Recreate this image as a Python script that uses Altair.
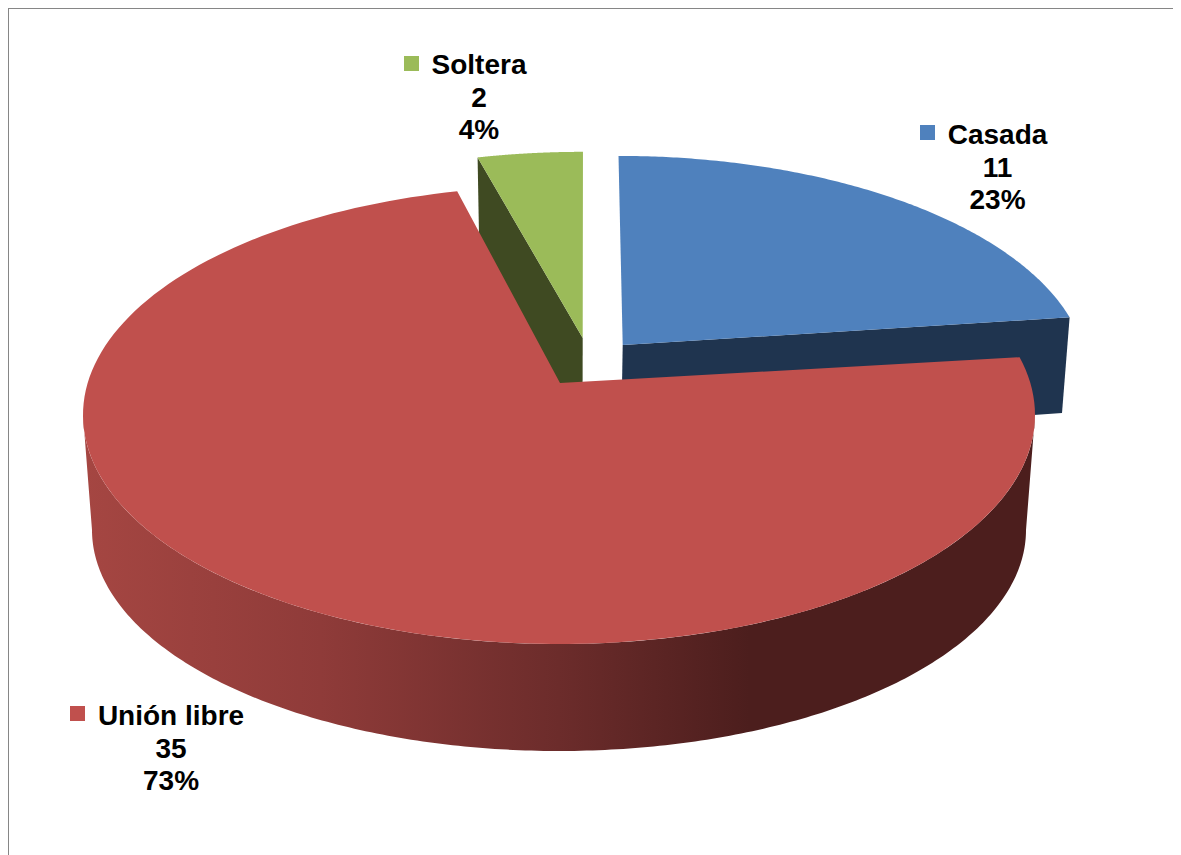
import altair as alt
import numpy as np

# ---- chart values ----
categories = ["Casada", "Unión libre", "Soltera"]
values = [11, 35, 2]
top_colors = ["#4F81BD", "#C0504D", "#9BBB59"]
wall_colors = ["#1F344F", None, "#3F4A22"]

# ---- layout (page pixels minus the 8px margin) ----
M = 8
W, H = 1165, 847
CX, CY, RA, RB = 559 - M, 415 - M, 476, 229       # top ellipse
LX, LY, LA, LB = 559 - M, 530 - M, 467, 221       # bottom ellipse
AX, AY = 560 - M, 383 - M                         # perspective centre of the pie
K = (CY - AY) / RB

total = sum(values)
fracs = [v / total for v in values]
starts = np.cumsum([0] + fracs[:-1]) * 360
ends = np.cumsum(fracs) * 360


def rim(theta_deg):
    t = np.radians(theta_deg)
    u, v = np.sin(t), np.cos(t)
    d = 1 + K * v
    return CX + RA * u * np.sqrt(1 - K**2) / d, CY - RB * (v + K) / d


def poly(xs, ys):
    pts = [[float(x), float(y)] for x, y in zip(xs, ys)]
    pts.append(pts[0])
    return {"type": "Feature", "properties": {},
            "geometry": {"type": "Polygon", "coordinates": [pts]}}


def sector(i, apex, sx=1.0, sy=1.0, shear=0.0, rot=0.0):
    th = np.linspace(starts[i] + rot, ends[i] + rot, 160)
    x, y = rim(th)
    dx, dy = x - AX, y - AY
    return np.r_[apex[0], apex[0] + sx * dx + shear * dy], np.r_[apex[1], apex[1] + sy * dy]


def shape(feature, fill):
    return alt.Chart(alt.Data(values=[feature])).mark_geoshape(
        fill=fill, stroke=None, strokeWidth=0
    ).project(type="identity", scale=1, translate=[0, 0])


# Blue slice
bx, by = sector(0, (622.7 - M, 345 - M), 0.977, 0.96, 0.0163)
blue_wall = poly([bx[0], bx[-1], 1062 - M, 621 - M], [by[0], by[-1], 413 - M, 445 - M])
blue_top = poly(bx, by)

# Green slice
gx, gy = sector(2, (582.7 - M, 338 - M), 0.98, 0.945, -0.0063)
green_wall = poly([gx[1], gx[0], 582.5 - M, 480 - M], [gy[1], gy[0], 420 - M, 290 - M])
green_top = poly(gx, gy)

# Red slice and its curved wall
rx, ry = sector(1, (AX, AY), rot=0.8)
red_top = poly(rx, ry)
a = np.linspace(np.pi, 0, 240)
wall_x = np.r_[CX + RA * np.cos(a), LX + LA * np.cos(a[::-1])]
wall_y = np.r_[CY + RB * np.sin(a), LY + LB * np.sin(a[::-1])]
red_wall = poly(wall_x, wall_y)

wall_gradient = alt.LinearGradient(
    gradient="linear", x1=0, x2=1, y1=0, y2=0,
    stops=[
        alt.GradientStop(color="#A54642", offset=0.0),
        alt.GradientStop(color="#8F3B39", offset=0.25),
        alt.GradientStop(color="#6C2C2B", offset=0.5),
        alt.GradientStop(color="#4C1E1D", offset=0.70),
        alt.GradientStop(color="#4C1E1D", offset=1.0),
    ],
)

# ---- labels ----
label_cx = [997.5 - M, 171 - M, 479 - M]
label_base = [144 - M, 725 - M, 74 - M]
LINE = 32.5
key_cx = [927.5 - M, 77.5 - M, 411.5 - M]
key_cy = [132.5 - M, 713.5 - M, 63.5 - M]

rows = []
for c, v, f, lx, ly in zip(categories, values, fracs, label_cx, label_base):
    for j, s in enumerate([c, str(v), f"{round(f * 100)}%"]):
        rows.append({"t": s, "x": lx, "y": ly + j * LINE})
keys = [{"x": x, "y": y, "c": col} for x, y, col in zip(key_cx, key_cy, top_colors)]

xs = alt.Scale(domain=[0, W], range=[0, W])
ys = alt.Scale(domain=[0, H], range=[0, H])

text = alt.Chart(alt.Data(values=rows)).mark_text(
    font="Liberation Sans", fontWeight="bold", fontSize=28, color="black",
    align="center", baseline="alphabetic",
).encode(
    x=alt.X("x:Q", scale=xs, axis=None),
    y=alt.Y("y:Q", scale=ys, axis=None),
    text="t:N",
)
key_marks = alt.Chart(alt.Data(values=keys)).mark_square(size=225, opacity=1, filled=True).encode(
    x=alt.X("x:Q", scale=xs, axis=None),
    y=alt.Y("y:Q", scale=ys, axis=None),
    color=alt.Color("c:N", scale=None),
)
frame_left = alt.Chart(alt.Data(values=[{"x": 0, "y": 0, "y2": H}])).mark_rule(
    color="#868686", strokeWidth=2
).encode(
    x=alt.X("x:Q", scale=xs, axis=None),
    y=alt.Y("y:Q", scale=ys, axis=None),
    y2="y2:Q",
)
frame_top = alt.Chart(alt.Data(values=[{"x": 0, "x2": W, "y": 0}])).mark_rule(
    color="#868686", strokeWidth=2
).encode(
    x=alt.X("x:Q", scale=xs, axis=None),
    x2="x2:Q",
    y=alt.Y("y:Q", scale=ys, axis=None),
)

chart = alt.layer(
    shape(blue_wall, wall_colors[0]),
    shape(blue_top, top_colors[0]),
    shape(green_wall, wall_colors[2]),
    shape(green_top, top_colors[2]),
    shape(red_wall, wall_gradient),
    shape(red_top, top_colors[1]),
    frame_left,
    frame_top,
    key_marks,
    text,
).resolve_scale(x="shared", y="shared").properties(
    width=W, height=H, padding=0, background="white",
    autosize=alt.AutoSizeParams(type="none"),
).configure_view(stroke=None)

chart.save("out.html", embed_options={"renderer": "svg", "actions": False})
